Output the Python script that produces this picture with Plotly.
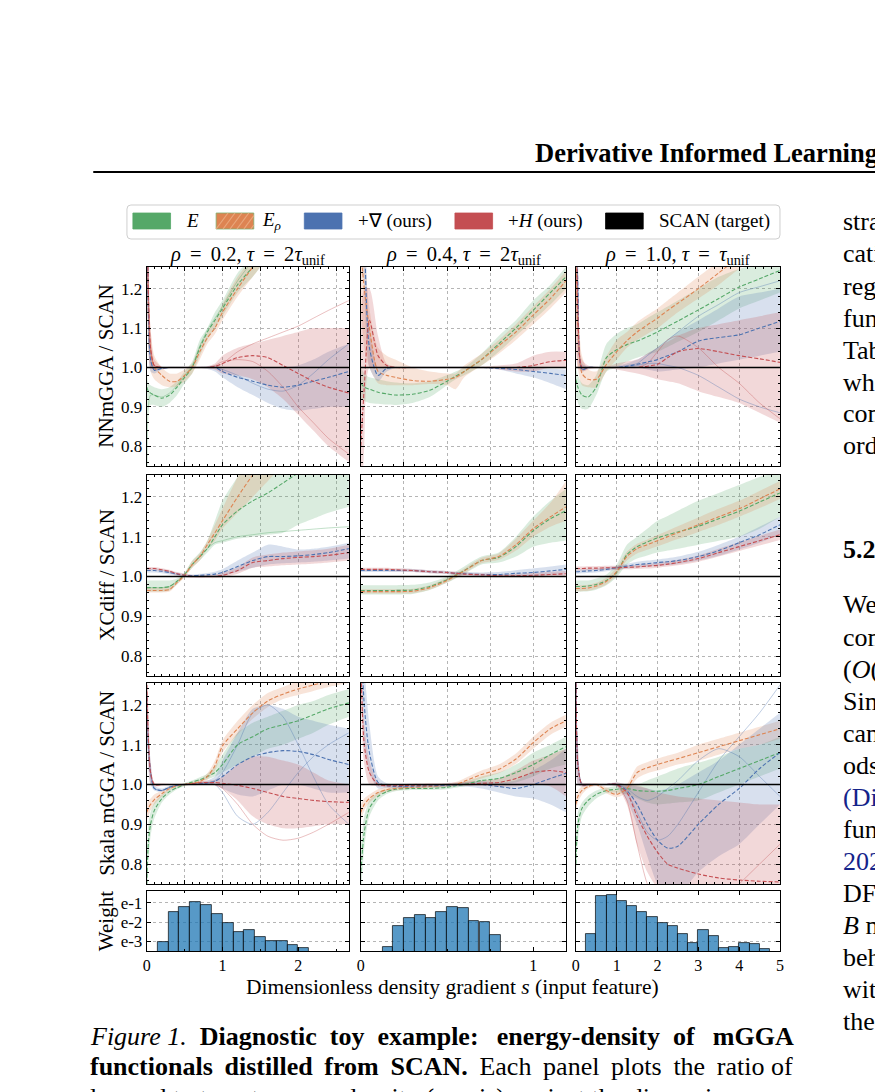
import plotly.graph_objects as go

W, H = 883, 1092
OFF = 8  # page body margin of the browser
FONT = "Liberation Serif"

# ---------------- data: s grids per column ----------------
S1 = [0.0, 0.02, 0.05, 0.1, 0.2, 0.3, 0.4, 0.5, 0.6, 0.7, 0.8, 0.9, 1.0, 1.2, 1.4, 1.6, 1.8, 2.0, 2.2, 2.4, 2.67]
S2 = [0.0, 0.02, 0.05, 0.1, 0.15, 0.2, 0.3, 0.4, 0.5, 0.55, 0.6, 0.7, 0.8, 0.9, 1.0, 1.1, 1.19]
S3 = [0.0, 0.05, 0.15, 0.3, 0.5, 0.75, 1.0, 1.25, 1.5, 1.75, 2.0, 2.25, 2.5, 3.0, 3.5, 4.0, 4.5, 5.0]
SCAN_RATIO = 1.0

# ---- NNmGGA, rho=0.2 ----
NN1_E = [0.95, 0.94, 0.935, 0.93, 0.922, 0.93, 0.95, 0.975, 1.0, 1.05, 1.09, 1.12, 1.15, 1.21, 1.255, 1.30, 1.34, 1.38, 1.42, 1.45, 1.50]
NN1_E_LO = [0.88, 0.90, 0.905, 0.905, 0.90, 0.91, 0.93, 0.96, 0.985, 1.03, 1.07, 1.10, 1.13, 1.19, 1.23, 1.28, 1.32, 1.36, 1.40, 1.43, 1.47]
NN1_E_HI = [0.99, 0.96, 0.955, 0.95, 0.945, 0.95, 0.965, 0.99, 1.015, 1.07, 1.10, 1.14, 1.17, 1.24, 1.28, 1.32, 1.36, 1.40, 1.44, 1.47, 1.52]
NN1_ER = [1.35, 1.15, 1.04, 1.00, 0.98, 0.965, 0.965, 0.98, 1.00, 1.04, 1.075, 1.10, 1.14, 1.20, 1.255, 1.30, 1.34, 1.38, 1.42, 1.45, 1.50]
NN1_ER_LO = [1.20, 1.05, 0.99, 0.97, 0.955, 0.95, 0.952, 0.965, 0.985, 1.02, 1.06, 1.085, 1.12, 1.18, 1.23, 1.28, 1.32, 1.36, 1.40, 1.43, 1.47]
NN1_ER_HI = [1.50, 1.25, 1.10, 1.03, 1.00, 0.985, 0.985, 0.995, 1.01, 1.055, 1.09, 1.12, 1.16, 1.23, 1.28, 1.33, 1.37, 1.41, 1.45, 1.48, 1.53]
NN1_G = [1.50, 1.15, 1.02, 0.993, 0.998, 1.0, 1.0, 1.0, 1.0, 1.0, 1.0, 1.0, 0.99, 0.975, 0.965, 0.955, 0.95, 0.955, 0.965, 0.975, 0.99]
NN1_G_LO = [1.30, 1.05, 0.99, 0.985, 0.995, 0.998, 0.998, 0.998, 0.998, 0.998, 0.996, 0.99, 0.975, 0.95, 0.93, 0.91, 0.895, 0.89, 0.895, 0.90, 0.90]
NN1_G_HI = [1.60, 1.25, 1.05, 1.00, 1.002, 1.002, 1.002, 1.002, 1.002, 1.002, 1.003, 1.005, 1.0, 1.0, 1.0, 1.0, 1.0, 1.005, 1.02, 1.04, 1.06]
NN1_H = [1.50, 1.20, 1.05, 1.005, 1.0, 1.0, 1.0, 1.0, 1.0, 1.0, 1.0, 1.003, 1.01, 1.025, 1.03, 1.025, 1.005, 0.985, 0.965, 0.95, 0.935]
NN1_H_LO = [1.30, 1.10, 1.00, 0.995, 0.998, 0.998, 0.998, 0.998, 0.998, 0.998, 0.998, 0.995, 0.985, 0.98, 0.97, 0.95, 0.92, 0.88, 0.84, 0.80, 0.76]
NN1_H_HI = [1.60, 1.30, 1.10, 1.02, 1.002, 1.002, 1.002, 1.002, 1.002, 1.002, 1.003, 1.01, 1.03, 1.05, 1.06, 1.07, 1.08, 1.09, 1.10, 1.10, 1.10]

# ---- NNmGGA, rho=0.4 ----
NN2_E = [0.96, 0.95, 0.945, 0.937, 0.933, 0.93, 0.932, 0.942, 0.965, 0.978, 0.99, 1.02, 1.06, 1.10, 1.145, 1.19, 1.23]
NN2_E_LO = [0.92, 0.915, 0.91, 0.908, 0.906, 0.905, 0.91, 0.925, 0.955, 0.97, 0.98, 1.005, 1.04, 1.08, 1.12, 1.16, 1.20]
NN2_E_HI = [1.00, 0.985, 0.975, 0.97, 0.965, 0.962, 0.96, 0.965, 0.98, 0.99, 1.00, 1.035, 1.08, 1.12, 1.17, 1.21, 1.255]
NN2_ER = [1.30, 1.20, 1.10, 0.99, 0.98, 0.975, 0.967, 0.965, 0.97, 0.975, 0.99, 1.02, 1.055, 1.09, 1.133, 1.175, 1.22]
NN2_ER_LO = [1.15, 1.05, 1.00, 0.96, 0.955, 0.955, 0.955, 0.958, 0.955, 0.945, 0.975, 1.005, 1.035, 1.07, 1.11, 1.15, 1.19]
NN2_ER_HI = [1.45, 1.30, 1.15, 1.05, 1.03, 1.02, 1.00, 0.99, 0.985, 0.985, 1.005, 1.035, 1.07, 1.11, 1.155, 1.20, 1.245]
NN2_G = [1.60, 1.35, 1.05, 0.98, 0.998, 1.0, 1.0, 1.0, 1.0, 1.0, 1.0, 1.0, 0.998, 0.995, 0.99, 0.985, 0.98]
NN2_G_LO = [1.40, 1.20, 1.00, 0.965, 0.99, 0.998, 0.998, 0.998, 0.998, 0.998, 0.998, 0.998, 0.995, 0.985, 0.975, 0.96, 0.945]
NN2_G_HI = [1.70, 1.50, 1.10, 1.00, 1.003, 1.002, 1.002, 1.002, 1.002, 1.002, 1.002, 1.002, 1.0, 1.0, 0.998, 0.997, 0.995]
NN2_H = [0.80, 0.95, 1.12, 1.03, 1.005, 1.0, 1.0, 1.0, 1.0, 1.0, 1.0, 1.0, 1.0, 1.0, 1.005, 1.015, 1.018]
NN2_H_LO = [0.60, 0.80, 1.00, 1.00, 0.998, 0.998, 0.998, 0.998, 0.998, 0.998, 0.998, 0.998, 0.995, 0.99, 0.99, 1.0, 1.0]
NN2_H_HI = [1.10, 1.20, 1.20, 1.08, 1.01, 1.002, 1.002, 1.002, 1.002, 1.002, 1.002, 1.002, 1.005, 1.01, 1.03, 1.04, 1.04]

# ---- NNmGGA, rho=1.0 ----
NN3_E = [0.97, 0.95, 0.93, 0.925, 0.95, 1.025, 1.045, 1.058, 1.067, 1.078, 1.09, 1.104, 1.118, 1.146, 1.175, 1.204, 1.225, 1.246]
NN3_E_LO = [0.93, 0.91, 0.895, 0.895, 0.93, 0.99, 1.0, 1.015, 1.025, 1.033, 1.04, 1.052, 1.065, 1.09, 1.12, 1.15, 1.17, 1.19]
NN3_E_HI = [1.0, 0.98, 0.96, 0.955, 0.98, 1.06, 1.085, 1.1, 1.11, 1.125, 1.14, 1.155, 1.17, 1.2, 1.23, 1.25, 1.265, 1.28]
NN3_ER = [1.3, 1.1, 0.985, 0.97, 0.97, 1.008, 1.04, 1.068, 1.09, 1.108, 1.125, 1.145, 1.163, 1.2, 1.24, 1.28, 1.31, 1.34]
NN3_ER_LO = [1.15, 1.0, 0.955, 0.95, 0.95, 0.99, 1.02, 1.05, 1.07, 1.085, 1.1, 1.12, 1.14, 1.175, 1.21, 1.25, 1.28, 1.31]
NN3_ER_HI = [1.45, 1.2, 1.03, 0.995, 0.99, 1.03, 1.07, 1.09, 1.115, 1.133, 1.15, 1.17, 1.19, 1.23, 1.27, 1.31, 1.34, 1.37]
NN3_G = [1.6, 1.2, 0.995, 1.0, 1.0, 1.0, 1.0, 1.003, 1.008, 1.014, 1.02, 1.03, 1.04, 1.067, 1.076, 1.083, 1.1, 1.117]
NN3_G_LO = [1.4, 1.05, 0.99, 0.997, 0.998, 0.998, 0.998, 0.998, 1.0, 0.995, 0.99, 0.992, 0.995, 1.0, 1.01, 1.02, 1.03, 1.04]
NN3_G_HI = [1.7, 1.3, 1.01, 1.003, 1.002, 1.002, 1.004, 1.01, 1.02, 1.035, 1.05, 1.07, 1.09, 1.12, 1.15, 1.18, 1.19, 1.2]
NN3_H = [1.6, 1.15, 1.0, 1.0, 1.0, 1.0, 1.0, 1.0, 1.0, 1.003, 1.008, 1.025, 1.04, 1.048, 1.04, 1.03, 1.022, 1.013]
NN3_H_LO = [1.4, 1.0, 0.99, 0.995, 0.998, 0.998, 0.995, 0.99, 0.985, 0.978, 0.97, 0.965, 0.96, 0.94, 0.925, 0.91, 0.885, 0.86]
NN3_H_HI = [1.7, 1.3, 1.02, 1.005, 1.002, 1.002, 1.01, 1.015, 1.02, 1.035, 1.05, 1.065, 1.08, 1.1, 1.11, 1.12, 1.13, 1.14]

# ---- XCdiff, rho=0.2 ----
XC1_E = [0.972, 0.972, 0.972, 0.972, 0.972, 0.975, 0.988, 1.005, 1.03, 1.05, 1.07, 1.10, 1.13, 1.165, 1.19, 1.21, 1.235, 1.26, 1.28, 1.30, 1.33]
XC1_E_LO = [0.962, 0.962, 0.962, 0.962, 0.962, 0.965, 0.98, 1.0, 1.022, 1.04, 1.06, 1.08, 1.085, 1.095, 1.10, 1.105, 1.11, 1.13, 1.145, 1.16, 1.175]
XC1_E_HI = [0.99, 0.99, 0.99, 0.99, 0.99, 0.99, 0.995, 1.01, 1.04, 1.06, 1.09, 1.14, 1.19, 1.25, 1.30, 1.35, 1.40, 1.45, 1.50, 1.55, 1.60]
XC1_ER = [0.965, 0.965, 0.965, 0.965, 0.965, 0.967, 0.985, 1.003, 1.03, 1.05, 1.08, 1.11, 1.14, 1.20, 1.255, 1.30, 1.34, 1.38, 1.42, 1.46, 1.50]
XC1_ER_LO = [0.96, 0.96, 0.96, 0.96, 0.96, 0.962, 0.98, 0.998, 1.022, 1.04, 1.07, 1.09, 1.12, 1.16, 1.20, 1.24, 1.28, 1.32, 1.36, 1.40, 1.44]
XC1_ER_HI = [0.972, 0.972, 0.972, 0.972, 0.972, 0.975, 0.99, 1.008, 1.038, 1.058, 1.09, 1.13, 1.17, 1.25, 1.31, 1.36, 1.40, 1.44, 1.48, 1.52, 1.56]
XC1_G = [1.015, 1.015, 1.015, 1.015, 1.013, 1.01, 1.006, 1.003, 1.002, 1.003, 1.004, 1.006, 1.01, 1.025, 1.04, 1.05, 1.05, 1.052, 1.055, 1.06, 1.07]
XC1_G_LO = [1.01, 1.01, 1.01, 1.01, 1.008, 1.005, 1.002, 0.999, 0.998, 0.998, 0.999, 1.0, 1.002, 1.012, 1.022, 1.03, 1.033, 1.035, 1.037, 1.04, 1.045]
XC1_G_HI = [1.02, 1.02, 1.02, 1.02, 1.018, 1.014, 1.01, 1.006, 1.005, 1.007, 1.009, 1.012, 1.018, 1.04, 1.06, 1.08, 1.075, 1.068, 1.07, 1.075, 1.085]
XC1_H = [1.02, 1.02, 1.02, 1.02, 1.017, 1.013, 1.007, 1.003, 1.0, 1.0, 1.0, 1.0, 1.003, 1.015, 1.035, 1.04, 1.045, 1.048, 1.05, 1.053, 1.06]
XC1_H_LO = [1.016, 1.016, 1.016, 1.016, 1.013, 1.009, 1.003, 0.999, 0.997, 0.996, 0.996, 0.996, 0.998, 1.007, 1.022, 1.025, 1.028, 1.03, 1.032, 1.035, 1.04]
XC1_H_HI = [1.024, 1.024, 1.024, 1.024, 1.021, 1.017, 1.011, 1.007, 1.004, 1.004, 1.004, 1.005, 1.009, 1.023, 1.048, 1.055, 1.06, 1.063, 1.066, 1.07, 1.08]

# ---- XCdiff, rho=0.4 ----
XC2_E = [0.965, 0.965, 0.965, 0.965, 0.965, 0.965, 0.966, 0.975, 0.992, 1.003, 1.015, 1.04, 1.048, 1.075, 1.115, 1.145, 1.165]
XC2_E_LO = [0.955, 0.955, 0.955, 0.955, 0.955, 0.955, 0.956, 0.966, 0.984, 0.995, 1.006, 1.03, 1.035, 1.05, 1.075, 1.085, 1.09]
XC2_E_HI = [0.978, 0.978, 0.978, 0.978, 0.978, 0.978, 0.979, 0.985, 1.0, 1.012, 1.025, 1.05, 1.06, 1.1, 1.15, 1.19, 1.22]
XC2_ER = [0.962, 0.962, 0.962, 0.962, 0.962, 0.962, 0.963, 0.972, 0.99, 1.002, 1.014, 1.04, 1.05, 1.08, 1.12, 1.15, 1.175]
XC2_ER_LO = [0.957, 0.957, 0.957, 0.957, 0.957, 0.957, 0.958, 0.967, 0.985, 0.996, 1.008, 1.033, 1.042, 1.065, 1.1, 1.125, 1.14]
XC2_ER_HI = [0.968, 0.968, 0.968, 0.968, 0.968, 0.968, 0.969, 0.978, 0.996, 1.008, 1.02, 1.047, 1.058, 1.095, 1.14, 1.185, 1.24]
XC2_G = [1.015, 1.015, 1.015, 1.015, 1.015, 1.015, 1.015, 1.012, 1.01, 1.008, 1.007, 1.005, 1.005, 1.008, 1.01, 1.014, 1.018]
XC2_G_LO = [1.011, 1.011, 1.011, 1.011, 1.011, 1.011, 1.011, 1.008, 1.006, 1.004, 1.003, 1.001, 1.0, 1.001, 1.002, 1.004, 1.005]
XC2_G_HI = [1.019, 1.019, 1.019, 1.019, 1.019, 1.019, 1.019, 1.016, 1.014, 1.012, 1.011, 1.01, 1.011, 1.016, 1.02, 1.025, 1.03]
XC2_H = [1.018, 1.018, 1.018, 1.018, 1.018, 1.017, 1.015, 1.012, 1.01, 1.008, 1.006, 1.004, 1.002, 1.002, 1.003, 1.005, 1.007]
XC2_H_LO = [1.014, 1.014, 1.014, 1.014, 1.014, 1.013, 1.011, 1.008, 1.006, 1.004, 1.002, 1.0, 0.998, 0.998, 0.998, 0.999, 1.0]
XC2_H_HI = [1.022, 1.022, 1.022, 1.022, 1.022, 1.021, 1.019, 1.016, 1.014, 1.012, 1.01, 1.008, 1.006, 1.007, 1.009, 1.012, 1.014]

# ---- XCdiff, rho=1.0 ----
XC3_E = [0.975, 0.975, 0.975, 0.976, 0.98, 0.99, 1.01, 1.055, 1.075, 1.087, 1.097, 1.105, 1.112, 1.126, 1.145, 1.164, 1.187, 1.21]
XC3_E_LO = [0.962, 0.962, 0.962, 0.963, 0.967, 0.978, 0.998, 1.03, 1.045, 1.053, 1.06, 1.065, 1.07, 1.08, 1.09, 1.1, 1.12, 1.15]
XC3_E_HI = [0.99, 0.99, 0.99, 0.99, 0.995, 1.005, 1.03, 1.08, 1.1, 1.12, 1.14, 1.152, 1.165, 1.19, 1.21, 1.23, 1.25, 1.265]
XC3_ER = [0.97, 0.97, 0.97, 0.971, 0.976, 0.988, 1.012, 1.05, 1.07, 1.08, 1.09, 1.1, 1.11, 1.13, 1.15, 1.17, 1.195, 1.22]
XC3_ER_LO = [0.963, 0.963, 0.963, 0.964, 0.969, 0.98, 1.003, 1.04, 1.058, 1.067, 1.076, 1.085, 1.094, 1.112, 1.13, 1.15, 1.172, 1.195]
XC3_ER_HI = [0.978, 0.978, 0.978, 0.979, 0.984, 0.997, 1.022, 1.062, 1.082, 1.093, 1.104, 1.115, 1.126, 1.148, 1.17, 1.19, 1.215, 1.24]
XC3_G = [1.012, 1.012, 1.013, 1.014, 1.015, 1.018, 1.022, 1.026, 1.03, 1.032, 1.035, 1.037, 1.04, 1.05, 1.065, 1.085, 1.105, 1.13]
XC3_G_LO = [1.007, 1.007, 1.008, 1.009, 1.01, 1.013, 1.017, 1.02, 1.023, 1.025, 1.027, 1.029, 1.031, 1.04, 1.052, 1.068, 1.085, 1.105]
XC3_G_HI = [1.017, 1.017, 1.018, 1.019, 1.02, 1.023, 1.027, 1.032, 1.037, 1.04, 1.043, 1.046, 1.05, 1.062, 1.08, 1.1, 1.125, 1.15]
XC3_H = [1.02, 1.02, 1.02, 1.021, 1.021, 1.022, 1.022, 1.023, 1.024, 1.026, 1.028, 1.031, 1.035, 1.045, 1.06, 1.075, 1.09, 1.105]
XC3_H_LO = [1.015, 1.015, 1.015, 1.016, 1.016, 1.017, 1.017, 1.018, 1.019, 1.02, 1.022, 1.025, 1.028, 1.037, 1.05, 1.064, 1.078, 1.092]
XC3_H_HI = [1.025, 1.025, 1.025, 1.026, 1.026, 1.027, 1.027, 1.028, 1.029, 1.032, 1.034, 1.038, 1.042, 1.053, 1.07, 1.086, 1.102, 1.118]

# ---- Skala mGGA, rho=0.2 ----
SK1_E = [0.75, 0.85, 0.90, 0.935, 0.965, 0.982, 0.992, 1.0, 1.006, 1.012, 1.02, 1.03, 1.05, 1.10, 1.12, 1.14, 1.15, 1.16, 1.175, 1.19, 1.205]
SK1_E_LO = [0.70, 0.80, 0.87, 0.915, 0.955, 0.975, 0.988, 0.996, 1.002, 1.008, 1.013, 1.02, 1.03, 1.05, 1.07, 1.09, 1.10, 1.115, 1.13, 1.15, 1.17]
SK1_E_HI = [0.80, 0.90, 0.93, 0.955, 0.975, 0.99, 0.997, 1.004, 1.01, 1.018, 1.027, 1.045, 1.075, 1.13, 1.155, 1.17, 1.185, 1.20, 1.21, 1.225, 1.24]
SK1_ER = [0.93, 0.94, 0.95, 0.962, 0.977, 0.99, 0.997, 1.0, 1.003, 1.007, 1.02, 1.047, 1.097, 1.14, 1.18, 1.21, 1.227, 1.24, 1.25, 1.26, 1.27]
SK1_ER_LO = [0.91, 0.92, 0.935, 0.95, 0.97, 0.985, 0.994, 0.997, 1.0, 1.003, 1.012, 1.035, 1.08, 1.125, 1.165, 1.195, 1.215, 1.225, 1.235, 1.245, 1.255]
SK1_ER_HI = [0.95, 0.96, 0.965, 0.975, 0.985, 0.995, 1.0, 1.003, 1.006, 1.012, 1.028, 1.06, 1.11, 1.16, 1.20, 1.23, 1.245, 1.26, 1.27, 1.28, 1.29]
SK1_G = [1.22, 1.10, 1.03, 0.99, 0.985, 0.993, 0.998, 1.0, 1.0, 1.002, 1.004, 1.008, 1.02, 1.05, 1.07, 1.08, 1.085, 1.083, 1.075, 1.063, 1.05]
SK1_G_LO = [1.15, 1.05, 1.0, 0.985, 0.982, 0.99, 0.996, 0.998, 0.998, 0.999, 1.0, 1.0, 0.99, 0.975, 0.97, 0.985, 1.0, 1.0, 0.99, 0.98, 0.98]
SK1_G_HI = [1.28, 1.15, 1.06, 0.997, 0.99, 0.997, 1.0, 1.002, 1.003, 1.006, 1.01, 1.02, 1.06, 1.13, 1.19, 1.20, 1.19, 1.17, 1.16, 1.15, 1.14]
SK1_H = [1.25, 1.12, 1.03, 1.0, 1.0, 1.0, 1.0, 1.0, 1.002, 1.004, 1.005, 1.005, 1.003, 0.998, 0.99, 0.98, 0.97, 0.965, 0.96, 0.957, 0.955]
SK1_H_LO = [1.2, 1.05, 1.0, 0.995, 0.997, 0.998, 0.998, 0.998, 0.999, 1.0, 1.0, 0.998, 0.99, 0.96, 0.92, 0.90, 0.89, 0.89, 0.895, 0.90, 0.90]
SK1_H_HI = [1.3, 1.2, 1.06, 1.005, 1.003, 1.002, 1.002, 1.002, 1.005, 1.008, 1.01, 1.012, 1.02, 1.05, 1.07, 1.07, 1.06, 1.05, 1.03, 1.01, 1.0]

# ---- Skala mGGA, rho=0.4 ----
SK2_E = [0.78, 0.88, 0.94, 0.97, 0.982, 0.988, 0.99, 0.99, 0.993, 0.997, 1.0, 1.01, 1.015, 1.03, 1.05, 1.075, 1.095]
SK2_E_LO = [0.72, 0.84, 0.92, 0.96, 0.976, 0.983, 0.986, 0.986, 0.988, 0.992, 0.995, 1.0, 1.0, 1.005, 1.02, 1.04, 1.05]
SK2_E_HI = [0.84, 0.92, 0.96, 0.98, 0.988, 0.993, 0.994, 0.995, 0.998, 1.003, 1.007, 1.02, 1.03, 1.05, 1.08, 1.1, 1.12]
SK2_ER = [0.93, 0.95, 0.965, 0.98, 0.987, 0.99, 0.993, 0.995, 0.998, 1.0, 1.008, 1.025, 1.038, 1.064, 1.105, 1.14, 1.16]
SK2_ER_LO = [0.91, 0.935, 0.955, 0.972, 0.981, 0.985, 0.989, 0.991, 0.994, 0.996, 1.0, 1.015, 1.028, 1.052, 1.09, 1.125, 1.145]
SK2_ER_HI = [0.95, 0.965, 0.975, 0.988, 0.993, 0.995, 0.997, 0.999, 1.002, 1.006, 1.015, 1.035, 1.05, 1.078, 1.12, 1.155, 1.175]
SK2_G = [1.4, 1.2, 1.08, 1.005, 0.997, 0.995, 0.996, 0.997, 0.998, 0.999, 1.0, 1.0, 0.995, 0.99, 1.0, 1.015, 1.028]
SK2_G_LO = [1.3, 1.1, 1.03, 0.99, 0.992, 0.991, 0.992, 0.993, 0.994, 0.995, 0.995, 0.99, 0.98, 0.97, 0.965, 0.95, 0.93]
SK2_G_HI = [1.5, 1.3, 1.15, 1.02, 1.003, 1.0, 1.0, 1.001, 1.002, 1.003, 1.005, 1.008, 1.005, 1.01, 1.035, 1.06, 1.09]
SK2_H = [1.3, 1.1, 1.03, 1.0, 0.997, 0.997, 0.998, 0.999, 1.0, 1.0, 1.0, 1.003, 1.005, 1.015, 1.03, 1.035, 1.03]
SK2_H_LO = [1.2, 1.05, 1.0, 0.995, 0.993, 0.993, 0.994, 0.995, 0.996, 0.996, 0.996, 0.997, 0.995, 0.995, 1.0, 0.995, 0.97]
SK2_H_HI = [1.4, 1.15, 1.06, 1.005, 1.001, 1.001, 1.002, 1.003, 1.004, 1.005, 1.006, 1.01, 1.015, 1.035, 1.06, 1.075, 1.09]

# ---- Skala mGGA, rho=1.0 ----
SK3_E = [0.8, 0.9, 0.94, 0.96, 0.975, 0.985, 0.988, 0.99, 0.985, 0.983, 0.983, 0.985, 0.99, 1.0, 1.02, 1.04, 1.06, 1.08]
SK3_E_LO = [0.75, 0.86, 0.92, 0.945, 0.965, 0.978, 0.98, 0.975, 0.965, 0.955, 0.95, 0.952, 0.955, 0.96, 0.98, 1.0, 1.02, 1.04]
SK3_E_HI = [0.85, 0.93, 0.955, 0.972, 0.985, 0.992, 0.996, 1.0, 1.0, 1.01, 1.02, 1.03, 1.04, 1.055, 1.07, 1.09, 1.1, 1.12]
SK3_ER = [0.95, 0.97, 0.985, 0.995, 1.0, 0.985, 0.975, 0.99, 1.03, 1.042, 1.05, 1.058, 1.065, 1.08, 1.095, 1.11, 1.125, 1.14]
SK3_ER_LO = [0.93, 0.955, 0.975, 0.99, 0.996, 0.978, 0.968, 0.98, 1.015, 1.028, 1.035, 1.043, 1.05, 1.06, 1.075, 1.09, 1.1, 1.115]
SK3_ER_HI = [0.97, 0.985, 0.995, 1.0, 1.004, 0.993, 0.985, 1.0, 1.045, 1.056, 1.065, 1.073, 1.08, 1.1, 1.115, 1.13, 1.145, 1.16]
SK3_G = [1.3, 1.05, 1.0, 1.0, 1.0, 1.0, 1.0, 0.985, 0.95, 0.9, 0.86, 0.84, 0.845, 0.9, 0.95, 0.99, 1.04, 1.08]
SK3_G_LO = [1.2, 1.0, 0.995, 0.997, 0.998, 0.998, 0.995, 0.96, 0.9, 0.82, 0.75, 0.72, 0.72, 0.78, 0.82, 0.85, 0.9, 0.95]
SK3_G_HI = [1.4, 1.1, 1.005, 1.003, 1.002, 1.002, 1.005, 1.0, 0.995, 0.99, 0.985, 0.99, 1.0, 1.03, 1.06, 1.1, 1.14, 1.18]
SK3_H = [1.3, 1.05, 1.0, 1.0, 1.0, 1.0, 1.0, 0.98, 0.92, 0.87, 0.83, 0.8, 0.79, 0.775, 0.765, 0.76, 0.757, 0.755]
SK3_H_LO = [1.2, 1.0, 0.995, 0.997, 0.998, 0.998, 0.995, 0.95, 0.85, 0.78, 0.74, 0.72, 0.72, 0.72, 0.72, 0.72, 0.72, 0.72]
SK3_H_HI = [1.4, 1.1, 1.005, 1.003, 1.002, 1.002, 1.005, 1.0, 0.998, 0.99, 0.98, 0.975, 0.97, 0.965, 0.96, 0.955, 0.95, 0.95]

# ---- a few individual seeds (thin solid lines) ----
NN1_H_SEED_A = [1.5, 1.2, 1.05, 1.005, 1.0, 1.0, 1.0, 1.0, 1.0, 1.0, 1.0, 1.0, 1.01, 1.04, 1.06, 1.075, 1.09, 1.105, 1.125, 1.145, 1.17]
NN1_H_SEED_B = [1.5, 1.2, 1.05, 1.005, 1.0, 1.0, 1.0, 1.0, 1.0, 1.0, 1.0, 1.005, 1.015, 1.02, 1.015, 0.99, 0.95, 0.9, 0.86, 0.82, 0.78]
NN1_G_SEED_A = [1.5, 1.15, 1.02, 0.993, 0.998, 1.0, 1.0, 1.0, 1.0, 1.0, 1.0, 1.0, 0.995, 0.98, 0.96, 0.945, 0.94, 0.955, 0.985, 1.02, 1.06]
NN1_E_SEED_A = [0.6, 0.9, 0.93, 0.93, 0.925, 0.935, 0.955, 0.98, 1.005, 1.055, 1.095, 1.125, 1.155, 1.22, 1.27, 1.31, 1.35, 1.39, 1.43, 1.46, 1.5]
NN3_H_SEED_A = [1.6, 1.15, 1.0, 1.0, 1.0, 1.0, 1.0, 1.0, 1.0, 1.01, 1.04, 1.07, 1.08, 1.05, 1.0, 0.96, 0.91, 0.87]
NN3_G_SEED_A = [1.6, 1.2, 0.995, 1.0, 1.0, 1.0, 1.0, 1.005, 1.01, 1.03, 1.05, 1.07, 1.09, 1.13, 1.16, 1.19, 1.205, 1.22]
NN3_G_SEED_B = [1.6, 1.2, 0.995, 1.0, 1.0, 1.0, 1.0, 1.0, 1.005, 1.01, 1.01, 1.005, 1.0, 0.98, 0.95, 0.92, 0.9, 0.885]
XC1_E_SEED_A = [0.972, 0.972, 0.972, 0.972, 0.972, 0.975, 0.988, 1.005, 1.03, 1.05, 1.07, 1.085, 1.09, 1.1, 1.105, 1.11, 1.113, 1.116, 1.119, 1.122, 1.125]
SK1_G_SEED_A = [1.22, 1.1, 1.03, 0.99, 0.985, 0.993, 0.998, 1.0, 1.0, 1.002, 1.004, 1.0, 0.98, 0.92, 0.9, 0.93, 0.98, 1.03, 1.07, 1.1, 1.13]
SK1_G_SEED_B = [1.22, 1.1, 1.03, 0.99, 0.985, 0.993, 0.998, 1.0, 1.0, 1.002, 1.004, 1.01, 1.03, 1.1, 1.18, 1.2, 1.17, 1.1, 1.02, 0.95, 0.9]
SK1_H_SEED_A = [1.25, 1.12, 1.03, 1.0, 1.0, 1.0, 1.0, 1.0, 1.002, 1.004, 1.005, 1.0, 0.99, 0.95, 0.9, 0.87, 0.86, 0.865, 0.88, 0.9, 0.93]
SK3_G_SEED_A = [1.3, 1.05, 1.0, 1.0, 1.0, 1.0, 1.0, 0.98, 0.93, 0.88, 0.86, 0.87, 0.9, 0.98, 1.06, 1.12, 1.18, 1.25]
SK3_G_SEED_B = [1.3, 1.05, 1.0, 1.0, 1.0, 1.0, 1.0, 0.99, 0.97, 0.96, 0.97, 0.99, 1.01, 1.06, 1.09, 1.07, 1.02, 0.97]
SK3_H_SEED_A = [1.3, 1.05, 1.0, 1.0, 1.0, 1.0, 1.0, 0.96, 0.85, 0.75, 0.7, 0.68, 0.68, 0.68, 0.7, 0.75, 0.8, 0.85]

# ---- histograms of sample weights ----
HIST1_S = [0.214, 0.357, 0.5, 0.643, 0.786, 0.929, 1.071, 1.214, 1.357, 1.5, 1.643, 1.786, 1.929, 2.071]
HIST1_W = [0.001, 0.0347, 0.0617, 0.112, 0.0794, 0.0251, 0.00912, 0.00316, 0.00398, 0.0017, 0.00105, 0.00105, 0.000646, 0.000447]
HIST1_BIN = 0.143
HIST2_S = [0.156, 0.219, 0.281, 0.344, 0.406, 0.469, 0.531, 0.594, 0.656, 0.719, 0.781]
HIST2_W = [0.0005, 0.0066, 0.017, 0.0234, 0.0162, 0.0347, 0.0617, 0.0525, 0.0115, 0.0102, 0.00214]
HIST2_BIN = 0.0625
HIST3_S = [0.375, 0.625, 0.875, 1.125, 1.375, 1.625, 1.875, 2.125, 2.375, 2.625, 2.875, 3.125, 3.375, 3.625, 3.875, 4.125, 4.375, 4.625]
HIST3_W = [0.00251, 0.224, 0.263, 0.126, 0.0692, 0.0339, 0.0186, 0.0087, 0.006, 0.00251, 0.00085, 0.00398, 0.00182, 0.00047, 0.000525, 0.00089, 0.00079, 0.000427]
HIST3_BIN = 0.25

# ---- labels ----
TS = "&#8201;"
COL_TITLES = [f"<i>ρ</i>{TS} = {TS}0.2, <i>τ</i>{TS} = {TS}2<i>τ</i><sub>unif</sub>",
              f"<i>ρ</i>{TS} = {TS}0.4, <i>τ</i>{TS} = {TS}2<i>τ</i><sub>unif</sub>",
              f"<i>ρ</i>{TS} = {TS}1.0, <i>τ</i>{TS} = {TS}<i>τ</i><sub>unif</sub>"]
ROW_TITLES = ["NNmGGA / SCAN", "XCdiff / SCAN", "Skala mGGA / SCAN", "Weight"]
METHODS = ["E", "ER", "G", "H"]
METHOD_LABELS = ["<i>E</i>", "<i>E</i><sub><i>ρ</i></sub>", "+∇ (ours)", "+<i>H</i> (ours)", "SCAN (target)"]
Y_TICKS = [0.8, 0.9, 1.0, 1.1, 1.2]
HIST_TICKS = [0.001, 0.01, 0.1]
HIST_TICKTEXT = ["e-3", "e-2", "e-1"]
X_TICKS = [[0, 1, 2], [0, 1], [0, 1, 2, 3, 4, 5]]

# ---------------- assemble ----------------
GRIDS = [S1, S2, S3]
G = globals()
PREFIX = ["NN", "XC", "SK"]
PANELS = []
for pre in PREFIX:
    row = []
    for c in range(3):
        d = {}
        for m in METHODS:
            k = f"{pre}{c+1}_{m}"
            d[m] = (G[k], G[k + "_LO"], G[k + "_HI"])
        row.append(d)
    PANELS.append(row)
SEEDS = []
for r, pre in enumerate(PREFIX):
    for c in range(3):
        for m in METHODS:
            for tag in ["A", "B"]:
                k = f"{pre}{c+1}_{m}_SEED_{tag}"
                if k in G:
                    SEEDS.append((r, c, m, G[k]))
HISTS = [(HIST1_S, HIST1_W, HIST1_BIN), (HIST2_S, HIST2_W, HIST2_BIN), (HIST3_S, HIST3_W, HIST3_BIN)]

COLORS = {"E": "#55a868", "ER": "#dd8452", "G": "#4c72b0", "H": "#c44e52"}
FILLS = {"E": "rgba(85,168,104,0.22)", "ER": "rgba(221,132,82,0.22)",
         "G": "rgba(76,114,176,0.22)", "H": "rgba(196,78,82,0.22)"}
SEEDC = {"E": "rgba(85,168,104,0.45)", "ER": "rgba(221,132,82,0.45)",
         "G": "rgba(76,114,176,0.45)", "H": "rgba(196,78,82,0.45)"}

COL_PX = [(144, 348), (360, 567), (577, 783)]
ROW_PX = [(267, 466), (475, 676), (683, 884), (891, 951)]
XR = [[0, 2.67], [0, 1.19], [0, 5.0]]
XMAJ = [0.5, 0.25, 1.0]
XMIN = [0.1, 0.0625, 0.2]


def fx(px):
    return (px - OFF) / W


def fy(py):
    return 1 - (py - OFF) / H


def an(n, a):
    return a if n == 1 else f"{a}{n}"


fig = go.Figure()
spl = dict(shape="spline", smoothing=0.7)

for r in range(3):
    for c in range(3):
        n = r * 3 + c + 1
        xs = GRIDS[c]
        xa, ya = an(n, "x"), an(n, "y")
        for m in METHODS:
            mean, lo, hi = PANELS[r][c][m]
            fig.add_trace(go.Scatter(x=xs, y=lo, mode="lines", line=dict(width=0, **spl),
                                     hoverinfo="skip", showlegend=False, xaxis=xa, yaxis=ya))
            fig.add_trace(go.Scatter(x=xs, y=hi, mode="lines", line=dict(width=0, **spl),
                                     fill="tonexty", fillcolor=FILLS[m],
                                     hoverinfo="skip", showlegend=False, xaxis=xa, yaxis=ya))
        for (sr, sc, m, vals) in SEEDS:
            if sr == r and sc == c:
                fig.add_trace(go.Scatter(x=xs, y=vals, mode="lines",
                                         line=dict(color=SEEDC[m], width=0.8, **spl),
                                         showlegend=False, xaxis=xa, yaxis=ya))
        for m in METHODS:
            mean, lo, hi = PANELS[r][c][m]
            fig.add_trace(go.Scatter(x=xs, y=mean, mode="lines",
                                     line=dict(color=COLORS[m], width=1.1, dash="4px,2px", **spl),
                                     showlegend=False, xaxis=xa, yaxis=ya))
        fig.add_trace(go.Scatter(x=XR[c], y=[SCAN_RATIO, SCAN_RATIO], mode="lines",
                                 line=dict(color="black", width=1.3), showlegend=False,
                                 xaxis=xa, yaxis=ya))

for c in range(3):
    n = 9 + c + 1
    hs, hw, hb = HISTS[c]
    fig.add_trace(go.Bar(x=hs, y=hw, width=hb,
                         marker=dict(color="rgba(31,119,180,0.75)",
                                     line=dict(color="rgba(0,0,0,0.85)", width=0.8)),
                         showlegend=False, xaxis=an(n, "x"), yaxis=an(n, "y")))

tickfont = dict(family=FONT, size=17, color="black")
layout = dict(width=W, height=H, margin=dict(l=0, r=0, t=0, b=0),
              paper_bgcolor="white", plot_bgcolor="white", showlegend=False,
              font=dict(family=FONT, color="black"), bargap=0)
common = dict(showline=True, linecolor="black", linewidth=1, mirror="allticks",
              ticks="inside", ticklen=4, tickwidth=0.8, tickcolor="black",
              zeroline=False, tickfont=tickfont)
for r in range(4):
    for c in range(3):
        n = r * 3 + c + 1
        xd = [fx(COL_PX[c][0]), fx(COL_PX[c][1])]
        yd = [fy(ROW_PX[r][1]), fy(ROW_PX[r][0])]
        if r < 3:
            xax = dict(common, domain=xd, anchor=an(n, "y"), range=XR[c], dtick=XMAJ[c], tick0=0,
                       showticklabels=False, showgrid=True, gridcolor="#b5b5b5", griddash="dot",
                       gridwidth=0.8,
                       minor=dict(ticks="inside", ticklen=2, tickcolor="black", dtick=XMIN[c],
                                  tick0=0, showgrid=False))
            yax = dict(common, domain=yd, anchor=an(n, "x"), range=[0.75, 1.255], tickvals=Y_TICKS,
                       ticktext=[f"{v:.1f}" for v in Y_TICKS], showticklabels=(c == 0),
                       showgrid=True, gridcolor="#b5b5b5", griddash="dot", gridwidth=0.8,
                       minor=dict(ticks="inside", ticklen=2, tickcolor="black", dtick=0.02,
                                  tick0=0, showgrid=False))
        else:
            xax = dict(common, domain=xd, anchor=an(n, "y"), range=XR[c], tickvals=X_TICKS[c],
                       ticktext=[str(v) for v in X_TICKS[c]], showticklabels=True, showgrid=False,
                       tickfont=dict(family=FONT, size=16, color="black"),
                       minor=dict(ticks="inside", ticklen=2, tickcolor="black", dtick=XMAJ[c],
                                  tick0=0, showgrid=False))
            yax = dict(common, domain=yd, anchor=an(n, "x"), type="log", range=[-3.49, -0.39],
                       tickvals=HIST_TICKS, ticktext=HIST_TICKTEXT, showticklabels=(c == 0),
                       showgrid=True, gridcolor="#b5b5b5", griddash="dot", gridwidth=0.8)
        layout[an(n, "xaxis")] = xax
        layout[an(n, "yaxis")] = yax
fig.update_layout(**layout)

ann = []
shapes = []


def txt(x, y, s, size, xanchor="left", color="black", angle=0, family=FONT):
    ann.append(dict(x=fx(x), y=fy(y), xref="paper", yref="paper", text=s, showarrow=False,
                    xanchor=xanchor, yanchor="middle", textangle=angle,
                    font=dict(family=family, size=size, color=color)))


# column titles
for c in range(3):
    txt((COL_PX[c][0] + COL_PX[c][1]) / 2, 256, COL_TITLES[c], 20.5, "center")
# row titles
for r in range(4):
    txt(103, (ROW_PX[r][0] + ROW_PX[r][1]) / 2, ROW_TITLES[r], 21, "center", angle=-90)
# x label
txt(453, 987, "Dimensionless density gradient <i>s</i> (input feature)", 21.5, "center")

# legend box
x0, x1, y0, y1, rr = 124, 783, 205, 239, 4
p = (f"M {fx(x0 + rr)} {fy(y0)} L {fx(x1 - rr)} {fy(y0)} Q {fx(x1)} {fy(y0)} {fx(x1)} {fy(y0 + rr)} "
     f"L {fx(x1)} {fy(y1 - rr)} Q {fx(x1)} {fy(y1)} {fx(x1 - rr)} {fy(y1)} "
     f"L {fx(x0 + rr)} {fy(y1)} Q {fx(x0)} {fy(y1)} {fx(x0)} {fy(y1 - rr)} "
     f"L {fx(x0)} {fy(y0 + rr)} Q {fx(x0)} {fy(y0)} {fx(x0 + rr)} {fy(y0)} Z")
shapes.append(dict(type="path", path=p, xref="paper", yref="paper",
                   line=dict(color="#cfcfcf", width=1), fillcolor="white"))
PATCH_X = [130, 214, 303, 455, 607]
TEXT_X = [182, 258, 355, 507, 659]
PATCH_C = ["#55a868", "#dd8452", "#4c72b0", "#c44e52", "#000000"]
for i in range(5):
    px0 = PATCH_X[i]
    shapes.append(dict(type="rect", xref="paper", yref="paper", x0=fx(px0), x1=fx(px0 + 38),
                       y0=fy(229), y1=fy(213), fillcolor=PATCH_C[i],
                       line=dict(color=("#7fae6e" if i == 1 else PATCH_C[i]), width=0.8)))
    txt(TEXT_X[i], 221, METHOD_LABELS[i], 19)
# hatch on E_rho patch
for k in range(6):
    a = 214 + k * 7
    xa0, ya0 = a, 229
    xa1, ya1 = a + 12, 213
    if xa1 > 252:
        ya1 = 229 - (252 - xa0) * 16 / 12
        xa1 = 252
    shapes.append(dict(type="line", xref="paper", yref="paper", x0=fx(xa0), y0=fy(ya0),
                       x1=fx(xa1), y1=fy(ya1), line=dict(color="#e9a77c", width=1.2)))

# page elements: running header and rule
txt(534, 153, "<b>Derivative Informed Learning</b>", 26.5)
shapes.append(dict(type="line", xref="paper", yref="paper", x0=fx(90), x1=fx(895),
                   y0=fy(172), y1=fy(172), line=dict(color="black", width=2.2)))

# right column body text (clipped by page edge)
RIGHT_LINES = [(222, "strategies"), (254, "cation"), (286, "regime"), (318, "function"),
               (350, "Table"), (382, "where"), (413, "comp"), (445, "order"),
               (549, "<b>5.2. Re</b>"), (605, "We"), (637, "comp"), (669, "(<i>O</i>(n"),
               (701, "Simi"), (733, "cann"), (765, "ods"), (797, "<span style='color:#14238a'>(Di</span>"),
               (829, "func"), (861, "<span style='color:#14238a'>202</span>"), (893, "DFT"),
               (925, "<i>B</i> m"), (957, "beha"), (989, "with"), (1021, "the")]
for y, s in RIGHT_LINES:
    txt(845, y, s, 26)

# caption
txt(85, 1036, f"<i>Figure 1.</i> &nbsp;<b>Diagnostic &nbsp;toy &nbsp;example:{TS} &nbsp;energy-density &nbsp;of{TS} &nbsp;mGGA</b>", 26)
txt(85, 1066, f"<b>functionals{TS} distilled{TS} from{TS} SCAN.</b>{TS} Each{TS} panel{TS} plots{TS} the{TS} ratio of", 26)
txt(85, 1097, "learned to target energy-density (<i>y</i>-axis) against the dimension-", 26)

fig.update_layout(annotations=ann, shapes=shapes)
fig.write_html("out.html")
